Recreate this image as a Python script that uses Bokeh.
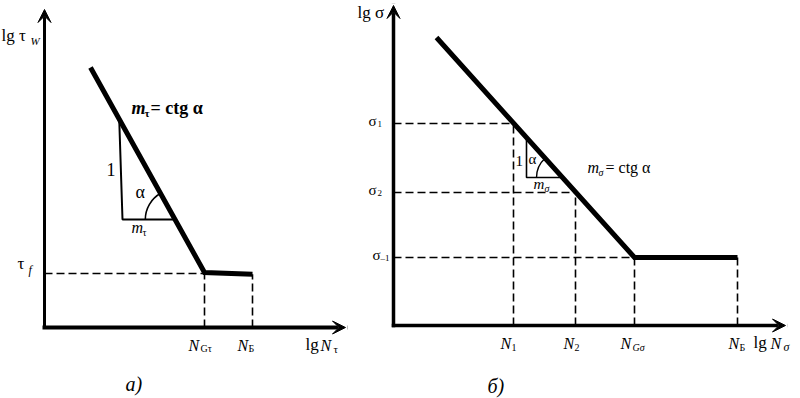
import math
from bokeh.plotting import figure
from bokeh.models import Arrow, VeeHead, Range1d
from bokeh.layouts import row
from bokeh.core.properties import value
from bokeh.embed import file_html
from bokeh.resources import INLINE

FONT = "Liberation Serif"
U = 40.0  # pixels per unit on both axes

# ---------------- data: panel a) (shear) ----------------
tau_curve_lgN = [1.15, 4.0, 5.2]
tau_curve_lgT = [6.5, 1.375, 1.33]
tau_f = 1.35
N_G_tau = 4.0
N_B_tau = 5.2
tau_tri_x = [1.87, 1.95, 3.27]
tau_tri_y = [5.15, 2.7, 2.7]
tau_axis_x_end = 7.525
tau_axis_y_end = 7.95

# ---------------- data: panel б) (normal stress) ----------------
sig_curve_lgN = [1.075, 6.025, 8.6]
sig_curve_lgS = [7.2, 1.7, 1.7]
N1, N2, N_G_sig, N_B_sig = 3.0, 4.55, 6.025, 8.6
sigma1, sigma2, sigma_m1 = 5.05, 3.325, 1.7
sig_tri_x = [3.325, 3.325, 4.225]
sig_tri_y = [4.68, 3.7, 3.7]
sig_axis_x_end = 9.8
sig_axis_y_end = 8.0


def make_fig(w, h, ox, oy):
    p = figure(width=w, height=h,
               x_range=Range1d(-ox / U, (w - ox) / U),
               y_range=Range1d(-(h - oy) / U, oy / U),
               x_axis_type=None, y_axis_type=None,
               output_backend="svg", toolbar_location=None, min_border=0)
    p.grid.visible = False
    p.outline_line_color = None
    p.background_fill_color = "white"
    p.border_fill_color = "white"
    return p


BASE_FIX = 0.33  # renderer places alphabetic baseline lower; compensate


def T(p, x, y, s, size, dx=0, dy=0, style="normal"):
    dy = dy - BASE_FIX * size
    p.text(x=[x + dx / U], y=[y - dy / U], text=[s],
           text_font=value(FONT), text_font_size=f"{size}px",
           text_font_style=style, text_align="left",
           text_baseline="alphabetic", text_color="black")


def axes(p, xend, yend, wx, wy):
    p.add_layout(Arrow(x_start=0, y_start=0, x_end=0, y_end=yend,
                       line_width=wy, line_color="black", line_cap="square",
                       end=VeeHead(size=13, fill_color="black",
                                   line_color="black", line_width=1)))
    p.add_layout(Arrow(x_start=0, y_start=0, x_end=xend, y_end=0,
                       line_width=wx, line_color="black", line_cap="square",
                       end=VeeHead(size=13, fill_color="black",
                                   line_color="black", line_width=1)))


DASH = "8 4"
H = 398

# ================= panel a) =================
WL = 350
PXL, PYL = 44, 327
pL = make_fig(WL, H, PXL, PYL)


def pgL(px, py):
    return (px - PXL) / U, (PYL - py) / U


axes(pL, tau_axis_x_end, tau_axis_y_end, 4, 3)

pL.line(x=[0, N_G_tau], y=[tau_f, tau_f], line_dash=DASH, line_width=1.6, line_color="black")
pL.line(x=[N_G_tau, N_G_tau], y=[0, tau_f], line_dash=DASH, line_width=1.6, line_color="black")
pL.line(x=[N_B_tau, N_B_tau], y=[0, tau_curve_lgT[-1]], line_dash=DASH, line_width=1.6, line_color="black")

pL.line(x=tau_curve_lgN, y=tau_curve_lgT, line_width=5, line_color="black", line_join="miter")

pL.line(x=tau_tri_x, y=tau_tri_y, line_width=2, line_color="black")
angL = math.atan2(tau_curve_lgT[0] - tau_curve_lgT[1], tau_curve_lgN[0] - tau_curve_lgN[1])
pL.arc(x=[tau_tri_x[2]], y=[tau_tri_y[2]], radius=0.75,
       start_angle=angL, end_angle=math.pi, line_width=1.6, line_color="black")

x, y = pgL(1, 41); T(pL, x, y, "lg τ", 17)
x, y = pgL(30, 44); T(pL, x, y, "W", 11, style="italic")
T(pL, 0, tau_f, "τ", 17, dx=-27, dy=-4)
T(pL, 0, tau_f, "f", 12, dx=-16, dy=0, style="italic")

x, y = pgL(131, 113); T(pL, x, y, "m", 18, style="bold italic")
x, y = pgL(144, 116); T(pL, x, y, "τ", 11, style="bold")
x, y = pgL(150, 113); T(pL, x, y, "= ctg  α", 18, style="bold")

x, y = pgL(106, 175); T(pL, x, y, "1", 18)
x, y = pgL(135, 197); T(pL, x, y, "α", 18)
x, y = pgL(131, 232); T(pL, x, y, "m", 16, style="italic")
x, y = pgL(142, 235); T(pL, x, y, "τ", 10)

T(pL, N_G_tau, 0, "N", 16, dx=-16, dy=23, style="italic")
T(pL, N_G_tau, 0, "Gτ", 10, dx=-4, dy=24)
T(pL, N_B_tau, 0, "N", 16, dx=-15, dy=23, style="italic")
T(pL, N_B_tau, 0, "Б", 10, dx=-4, dy=24)
T(pL, tau_axis_x_end, 0, "lg", 17, dx=-40, dy=23)
T(pL, tau_axis_x_end, 0, "N", 16, dx=-25, dy=23, style="italic")
T(pL, tau_axis_x_end, 0, "τ", 11, dx=-12, dy=25)

x, y = pgL(125, 390); T(pL, x, y, "a)", 20, style="italic")

# ================= panel б) =================
WR = 450
X0R = 350
PXR, PYR = 393, 325
pR = make_fig(WR, H, PXR - X0R, PYR)


def pgR(px, py):
    return (px - PXR) / U, (PYR - py) / U


axes(pR, sig_axis_x_end, sig_axis_y_end, 3.5, 3.5)

for nx, sy in [(N1, sigma1), (N2, sigma2), (N_G_sig, sigma_m1)]:
    pR.line(x=[0, nx], y=[sy, sy], line_dash=DASH, line_width=1.6, line_color="black")
    pR.line(x=[nx, nx], y=[0, sy], line_dash=DASH, line_width=1.6, line_color="black")
pR.line(x=[N_B_sig, N_B_sig], y=[0, sig_curve_lgS[-1]], line_dash=DASH, line_width=1.6, line_color="black")

pR.line(x=sig_curve_lgN, y=sig_curve_lgS, line_width=5, line_color="black", line_join="miter")

pR.line(x=sig_tri_x, y=sig_tri_y, line_width=1.6, line_color="black")
angR = math.atan2(sig_curve_lgS[0] - sig_curve_lgS[1], sig_curve_lgN[0] - sig_curve_lgN[1])
pR.arc(x=[sig_tri_x[2]], y=[sig_tri_y[2]], radius=0.65,
       start_angle=angR, end_angle=math.pi, line_width=1.4, line_color="black")

x, y = pgR(357, 18); T(pR, x, y, "lg σ", 17)

T(pR, 0, sigma1, "σ", 15, dx=-25, dy=2)
T(pR, 0, sigma1, "1", 9, dx=-16, dy=3)
T(pR, 0, sigma2, "σ", 15, dx=-25, dy=2)
T(pR, 0, sigma2, "2", 9, dx=-16, dy=3)
T(pR, 0, sigma_m1, "σ", 15, dx=-21, dy=2)
T(pR, 0, sigma_m1, "–1", 9, dx=-13, dy=3)

x, y = pgR(515, 165); T(pR, x, y, "1", 15)
x, y = pgR(528, 163); T(pR, x, y, "α", 15)
x, y = pgR(533, 188); T(pR, x, y, "m", 15, style="italic")
x, y = pgR(544, 191); T(pR, x, y, "σ", 10, style="italic")

x, y = pgR(587, 172); T(pR, x, y, "m", 16, style="italic")
x, y = pgR(598, 175); T(pR, x, y, "σ", 10, style="italic")
x, y = pgR(605, 172); T(pR, x, y, "= ctg  α", 16)

T(pR, N1, 0, "N", 16, dx=-13, dy=23, style="italic")
T(pR, N1, 0, "1", 10, dx=-2, dy=25)
T(pR, N2, 0, "N", 16, dx=-12, dy=23, style="italic")
T(pR, N2, 0, "2", 10, dx=-1, dy=25)
T(pR, N_G_sig, 0, "N", 16, dx=-14, dy=23, style="italic")
T(pR, N_G_sig, 0, "Gσ", 10, dx=-2, dy=25, style="italic")
T(pR, N_B_sig, 0, "N", 16, dx=-9, dy=23, style="italic")
T(pR, N_B_sig, 0, "Б", 10, dx=2, dy=25)
T(pR, sig_axis_x_end, 0, "lg", 17, dx=-32, dy=23)
T(pR, sig_axis_x_end, 0, "N", 16, dx=-15, dy=23, style="italic")
T(pR, sig_axis_x_end, 0, "σ", 12, dx=-2, dy=25, style="italic")

x, y = pgR(487, 392); T(pR, x, y, "б)", 20, style="italic")

layout = row(pL, pR)
open("out.html", "w").write(file_html(layout, INLINE))
